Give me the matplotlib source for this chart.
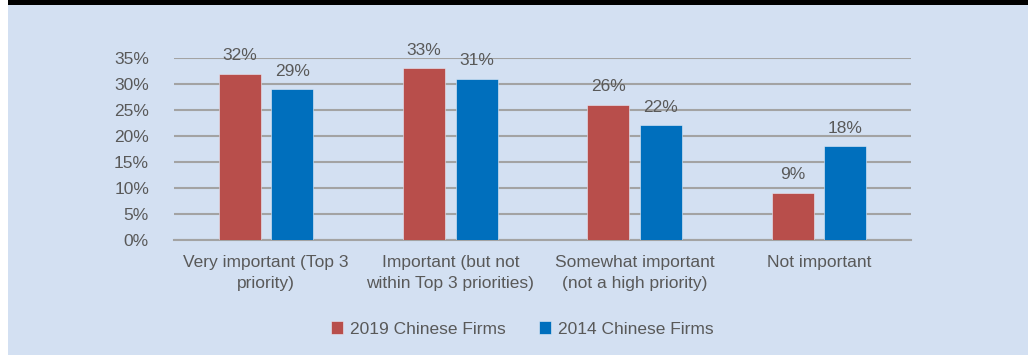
import numpy as np
import matplotlib.pyplot as plt
from matplotlib.patches import Rectangle
from matplotlib import font_manager

# Survey shares by importance level
categories = [
    'Very important (Top 3\npriority)',
    'Important (but not\nwithin Top 3 priorities)',
    'Somewhat important\n(not a high priority)',
    'Not important',
]
firms_2019 = [32, 33, 26, 9]
firms_2014 = [29, 31, 22, 18]
series_labels = ['2019 Chinese Firms', '2014 Chinese Firms']
y_ticks = [0, 5, 10, 15, 20, 25, 30, 35]

bg_color = '#d3e0f2'
text_color = '#595959'
grid_color = '#a3a3a3'
colors = ['#b84e4b', '#006fbd']

installed = {f.name for f in font_manager.fontManager.ttflist}
family = 'Liberation Sans Narrow' if 'Liberation Sans Narrow' in installed else 'Liberation Sans'
plt.rcParams['font.family'] = [family, 'DejaVu Sans']

fig = plt.figure(figsize=(10.3, 3.55), dpi=100)
fig.patch.set_facecolor('white')

# Panel background and the dark band along the top
W, H = 1030, 355
fig.patches.append(Rectangle((8 / W, 0), 1020 / W, 1, transform=fig.transFigure,
                             facecolor=bg_color, edgecolor='none', zorder=-2))
fig.patches.append(Rectangle((8 / W, 1 - 5 / H), 1020 / W, 5 / H, transform=fig.transFigure,
                             facecolor='black', edgecolor='none', zorder=-1))

ax = fig.add_axes([174 / W, 1 - 239.5 / H, (911 - 174) / W, (239.5 - 58) / H])
ax.set_facecolor('none')

x = np.arange(len(categories))
width = 0.228
offset = 0.1425
for vals, off, color, lab in [(firms_2019, -offset, colors[0], series_labels[0]),
                              (firms_2014, offset, colors[1], series_labels[1])]:
    bars = ax.bar(x + off, vals, width, color=color, edgecolor='#e8eef8', linewidth=0.4,
                  label=lab, zorder=3)
    for b, v in zip(bars, vals):
        ax.annotate(f'{v}%', (b.get_x() + b.get_width() / 2, v), xytext=(0, 18),
                    textcoords='offset pixels', ha='center', va='center',
                    fontsize=12.5, color=text_color)

ax.set_xlim(-0.5, len(categories) - 0.5)
ax.set_ylim(0, 35)
ax.set_yticks(y_ticks)
ax.set_yticklabels([f'{t}%' for t in y_ticks])
ax.yaxis.grid(True, color=grid_color, linewidth=1.5, zorder=0)
ax.set_axisbelow(True)
ax.set_xticks(x)
ax.set_xticklabels(categories, linespacing=1.55)
ax.tick_params(axis='both', length=0, labelsize=12.5, colors=text_color)
ax.tick_params(axis='y', pad=18)
ax.tick_params(axis='x', pad=11)
for side in ['top', 'right', 'left']:
    ax.spines[side].set_visible(False)
ax.spines['bottom'].set_color(grid_color)
ax.spines['bottom'].set_linewidth(1.5)

leg = fig.legend(loc='center', bbox_to_anchor=(522 / W, 1 - 329 / H), ncol=2, frameon=False,
                 fontsize=12.5, handlelength=0.7, handleheight=0.7, handletextpad=0.4,
                 columnspacing=1.9)
for t in leg.get_texts():
    t.set_color(text_color)

fig.savefig('out.png', dpi=100, facecolor=fig.get_facecolor())
plt.close(fig)
